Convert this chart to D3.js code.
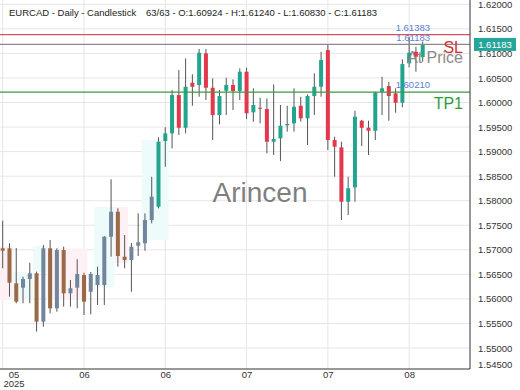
<!DOCTYPE html>
<html>
<head>
<meta charset="utf-8">
<script src="https://cdn.jsdelivr.net/npm/d3@7"></script>
<style>
  body { margin: 0; background: #fff; }
  text { font-family: "Liberation Sans", Arial, sans-serif; }
</style>
</head>
<body>
<div id="canvas"></div>
<script>
"use strict"

// daily EURCAD candles
let opens = [1.57031,1.57031,1.56318,1.56229,1.56406,1.56522,1.55537,1.57031,1.55809,1.56996,
  1.56115,1.56229,1.56487,1.56147,1.56284,1.56284,1.57267,1.57776,1.56860,1.56793,
  1.57084,1.57133,1.57607,1.57878,1.59216,1.59372,1.60152,1.59486,1.60403,1.60356,
  1.61001,1.60301,1.59745,1.60240,1.60356,1.60234,1.60627,1.59800,1.59894,1.59867,
  1.59201,1.59271,1.59535,1.59576,1.59934,1.59678,1.60132,1.60321,1.61068,1.59236,
  1.59087,1.57980,1.58273,1.59629,1.59486,1.59425,1.60220,1.60335,1.60187,1.59995,
  1.60798,1.61034,1.60924];
let highs = [1.57593,1.57133,1.57037,1.56453,1.56738,1.56555,1.57098,1.57200,1.57031,1.57064,
  1.56386,1.56807,1.56534,1.56550,1.56656,1.57280,1.58436,1.57845,1.57302,1.57139,
  1.57744,1.57744,1.58489,1.59291,1.59495,1.60254,1.60661,1.60899,1.60574,1.61089,
  1.61089,1.60492,1.60254,1.60504,1.60472,1.60696,1.60708,1.60289,1.60097,1.60085,
  1.60370,1.59949,1.59934,1.60289,1.60118,1.60166,1.60594,1.61034,1.61170,1.59303,
  1.59201,1.58489,1.59833,1.59643,1.59629,1.60220,1.60525,1.60423,1.60289,1.60879,
  1.61339,1.61136,1.61240];
let lows = [1.56624,1.56046,1.55911,1.55911,1.55911,1.55333,1.55435,1.55708,1.55740,1.55842,
  1.55842,1.55809,1.55673,1.55687,1.55877,1.55877,1.56860,1.56656,1.56624,1.56147,
  1.56874,1.56982,1.57540,1.57845,1.58692,1.59067,1.59338,1.59372,1.59934,1.60118,
  1.60050,1.59236,1.59556,1.59745,1.59847,1.60050,1.59664,1.59609,1.59576,1.58965,
  1.58931,1.58808,1.59405,1.59405,1.59609,1.59134,1.59745,1.60118,1.59032,1.58489,
  1.57607,1.57709,1.57980,1.59114,1.58931,1.59236,1.59745,1.59629,1.59792,1.59902,
  1.60716,1.60627,1.60830];
let closes = [1.56982,1.56331,1.55944,1.56406,1.56522,1.55537,1.57031,1.55809,1.56996,1.56115,
  1.56217,1.56508,1.55944,1.56508,1.56487,1.57267,1.57776,1.56874,1.56793,1.57064,
  1.57153,1.57607,1.58082,1.59201,1.59372,1.60152,1.59486,1.60321,1.60321,1.61013,
  1.60301,1.59745,1.60132,1.60356,1.60234,1.60627,1.59780,1.59949,1.59873,1.59201,
  1.59256,1.59527,1.59562,1.59914,1.59678,1.60132,1.60321,1.60865,1.59236,1.59100,
  1.57980,1.58253,1.59710,1.59486,1.59425,1.60199,1.60289,1.60132,1.59995,1.60783,
  1.61013,1.60932,1.61183];

// faded candles at the start sit inside the highlighted zones
let fadedUpTo = 22;
// [first bar, last bar, top, bottom, kind]
let zones = [
  [0, 1, 1.5707, 1.5598, "bear"],
  [2, 4, 1.5655, 1.5598, "bull"],
  [5, 6, 1.5707, 1.5655, "bull"],
  [7, 12, 1.5703, 1.5598, "bear"],
  [14, 16, 1.5787, 1.5624, "bull"],
  [17, 18, 1.5787, 1.5673, "bear"],
  [21, 24, 1.5924, 1.5720, "bull"]
];

let yTicks = [1.62, 1.615, 1.61, 1.605, 1.60, 1.595, 1.59, 1.585, 1.58, 1.575, 1.57, 1.565, 1.56, 1.555, 1.55, 1.545];
let xTickIdx = [0, 12, 24, 36, 48, 60];
let xTickLabels = ["05", "06", "06", "07", "07", "08"];

let slLevel = 1.61383;
let tpLevel = 1.60210;
let lastPrice = 1.61183;

let drawingWidth = 520;
let drawingHeight = 390;
let plotRight = 470;
let plotBottom = 369;

let drawing = d3.select("#canvas")
  .append("svg")
  .attr("width", drawingWidth)
  .attr("height", drawingHeight);

drawing.append("rect")
  .attr("width", drawingWidth)
  .attr("height", drawingHeight)
  .attr("fill", "#fff");

drawing.append("clipPath").attr("id", "plot")
  .append("rect")
  .attr("width", plotRight)
  .attr("height", plotBottom);

let x = d3.scaleLinear().domain([0, opens.length - 1]).range([2.7, 422.7]);
let y = d3.scaleLinear().domain([1.545, 1.62]).range([372.6, 4.3]);
let step = x(1) - x(0);

let plot = drawing.append("g").attr("clip-path", "url(#plot)");

// grid
plot.selectAll(".hgrid").data(yTicks).enter().append("line")
  .attr("x1", 0).attr("x2", plotRight)
  .attr("y1", d => y(d)).attr("y2", d => y(d))
  .attr("stroke", "#e6e6e6");

plot.selectAll(".vgrid").data(xTickIdx).enter().append("line")
  .attr("x1", d => x(d)).attr("x2", d => x(d))
  .attr("y1", 0).attr("y2", plotBottom)
  .attr("stroke", "#e6e6e6");

// zones
plot.selectAll(".zone").data(zones).enter().append("rect")
  .attr("x", d => x(d[0]) - step / 2)
  .attr("width", d => (d[1] - d[0] + 1) * step)
  .attr("y", d => y(d[2]))
  .attr("height", d => y(d[3]) - y(d[2]))
  .attr("fill", d => d[4] == "bull" ? "#eefbfb" : "#fdf1f5");

// watermark
drawing.append("text")
  .attr("x", 260).attr("y", 202)
  .attr("text-anchor", "middle")
  .attr("font-size", 28)
  .attr("fill", "#7f7f7f")
  .text("Arincen");

let bars = d3.range(opens.length);

function candleColor(i) {
  let up = closes[i] >= opens[i];
  if (i <= fadedUpTo) return up ? "#71869c" : "#9a6a46";
  return up ? "#22a58f" : "#e5374b";
}

// wicks
plot.selectAll(".wick").data(bars).enter().append("line")
  .attr("x1", i => x(i)).attr("x2", i => x(i))
  .attr("y1", i => y(highs[i])).attr("y2", i => y(lows[i]))
  .attr("stroke", "#555")
  .attr("stroke-width", 1);

// bodies
plot.selectAll(".body").data(bars).enter().append("rect")
  .attr("x", i => x(i) - 2)
  .attr("width", 4)
  .attr("y", i => y(Math.max(opens[i], closes[i])))
  .attr("height", i => Math.max(1, Math.abs(y(opens[i]) - y(closes[i]))))
  .attr("fill", i => candleColor(i));

// level lines
let levels = [[slLevel, "#d9505a"], [lastPrice, "#8a8a8a"], [tpLevel, "#3c9a3c"]];
plot.selectAll(".level").data(levels).enter().append("line")
  .attr("x1", 0).attr("x2", plotRight)
  .attr("y1", d => y(d[0])).attr("y2", d => y(d[0]))
  .attr("stroke", d => d[1])
  .attr("stroke-width", 1.2);

let levelText = [[slLevel, -4], [lastPrice, -3], [tpLevel, -4]];
drawing.selectAll(".levelText").data(levelText).enter().append("text")
  .attr("x", 430).attr("y", d => y(d[0]) + d[1])
  .attr("text-anchor", "end")
  .attr("font-size", 9.5)
  .attr("fill", "#5b7fd6")
  .text(d => d[0].toFixed(5));

drawing.append("text")
  .attr("x", 463).attr("y", y(lastPrice) + 9)
  .attr("text-anchor", "end").attr("font-size", 16).attr("fill", "#d32f2f")
  .text("SL");
drawing.append("text")
  .attr("x", 463).attr("y", y(lastPrice) + 19)
  .attr("text-anchor", "end").attr("font-size", 16).attr("fill", "#8a8a8a")
  .text("At Price");
drawing.append("text")
  .attr("x", 463).attr("y", y(tpLevel) + 17)
  .attr("text-anchor", "end").attr("font-size", 16).attr("fill", "#2e9d3a")
  .text("TP1");

// frame
drawing.append("line")
  .attr("x1", plotRight).attr("x2", plotRight)
  .attr("y1", 0).attr("y2", plotBottom)
  .attr("stroke", "#333");
drawing.append("line")
  .attr("x1", 0).attr("x2", plotRight)
  .attr("y1", plotBottom).attr("y2", plotBottom)
  .attr("stroke", "#333");

// y axis
let yAxis = drawing.append("g")
  .attr("transform", "translate(474,0)")
  .call(d3.axisRight(y).tickValues(yTicks).tickFormat(d3.format(".5f")).tickSize(0).tickPadding(4));
yAxis.select(".domain").remove();
yAxis.selectAll("text").attr("font-size", 9.5).attr("fill", "#333").attr("font-family", "Liberation Sans, Arial, sans-serif");
yAxis.selectAll(".tick").filter(d => d == 1.545).attr("transform", "translate(0,365)");

// last price tag
drawing.append("rect")
  .attr("x", 474).attr("y", y(lastPrice) - 6.5)
  .attr("width", 42).attr("height", 13)
  .attr("fill", "#26a69a");
drawing.append("text")
  .attr("x", 495).attr("y", y(lastPrice) + 3.5)
  .attr("text-anchor", "middle")
  .attr("font-size", 9.5)
  .attr("fill", "#fff")
  .text(lastPrice.toFixed(5));

// x axis
let xAxis = drawing.append("g")
  .attr("transform", "translate(0," + plotBottom + ")")
  .call(d3.axisBottom(x).tickValues(xTickIdx).tickFormat((d, i) => xTickLabels[i]).tickSize(0).tickPadding(2));
xAxis.select(".domain").remove();
xAxis.selectAll("text").attr("font-size", 9.5).attr("fill", "#333").attr("font-family", "Liberation Sans, Arial, sans-serif");
xAxis.selectAll(".tick").filter(d => d == 0).attr("transform", "translate(14,0)")
  .append("text")
  .attr("y", 11).attr("dy", "0.71em")
  .attr("text-anchor", "middle")
  .attr("font-size", 9.5).attr("fill", "#333")
  .attr("font-family", "Liberation Sans, Arial, sans-serif")
  .text("2025");

// title
drawing.append("text")
  .attr("x", 9).attr("y", 16)
  .attr("font-size", 9.5).attr("fill", "#222")
  .text("EURCAD - Daily - Candlestick");
drawing.append("text")
  .attr("x", 146).attr("y", 16)
  .attr("font-size", 9.5).attr("fill", "#222")
  .text("63/63 - O:" + opens[62].toFixed(5) + " - H:" + highs[62].toFixed(5) + " - L:" + lows[62].toFixed(5) + " - C:" + closes[62].toFixed(5));
</script>
</body>
</html>
